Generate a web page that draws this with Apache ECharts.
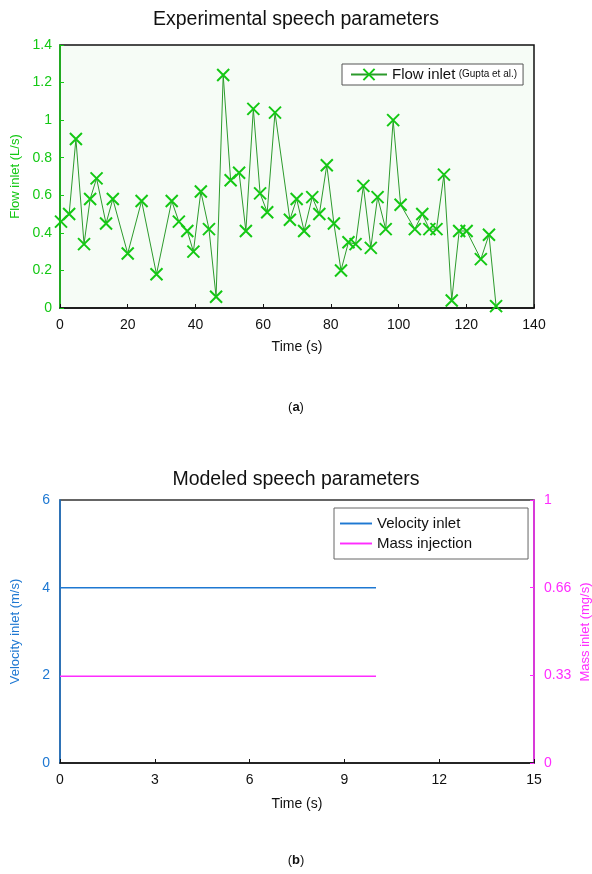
<!DOCTYPE html>
<html>
<head>
    <meta charset="utf-8">
    <title>Speech parameters</title>
    <script src="https://cdn.jsdelivr.net/npm/echarts@6/dist/echarts.min.js"></script>
</head>
<body style="margin:0px;background:#fff;">
    <div id="main" style="width: 592px;height:874px;"></div>
    <script type="text/javascript">
    // (a) experimental flow inlet: [time s, flow L/s]
    var flowTime = [0.3, 2.7, 4.7, 7.1, 8.9, 10.8, 13.6, 15.6, 20.0, 24.1, 28.5, 33.0, 35.1, 37.6, 39.4, 41.6, 44.0, 46.1,
        48.2, 50.4, 52.9, 54.9, 57.1, 59.1, 61.2, 63.5, 67.9, 69.9, 72.1, 74.5, 76.6, 78.8, 80.9, 83.0, 85.2, 87.3,
        89.6, 91.8, 93.8, 96.2, 98.4, 100.6, 104.8, 107.0, 109.1, 111.2, 113.4, 115.7, 117.9, 120.1, 124.3, 126.7, 128.8];
    var flowValue = [0.46, 0.50, 0.90, 0.34, 0.58, 0.69, 0.45, 0.58, 0.29, 0.57, 0.18, 0.57, 0.46, 0.41, 0.30, 0.62, 0.42, 0.06,
        1.24, 0.68, 0.72, 0.41, 1.06, 0.61, 0.51, 1.04, 0.47, 0.58, 0.41, 0.59, 0.50, 0.76, 0.45, 0.20, 0.35, 0.34,
        0.65, 0.32, 0.59, 0.42, 1.00, 0.55, 0.42, 0.50, 0.42, 0.42, 0.71, 0.04, 0.41, 0.41, 0.26, 0.39, 0.01];

    // (b) modeled parameters
    var modelTime = [0, 10];
    var velocityValue = [4, 4];
    var massValue = [0.33, 0.33];
    var massTicks = ['0', '0.33', '0.66', '1'];

    var flowData = flowTime.map(function (t, i) { return [t, flowValue[i]]; });
    var velData = modelTime.map(function (t, i) { return [t, velocityValue[i]]; });
    var massData = modelTime.map(function (t, i) { return [t, massValue[i]]; });

    var FONT = '"Liberation Sans", Arial, sans-serif';
    var GREEN = '#14c814', BLUE = '#1e78d2', PINK = '#ff2cff';
    var crossIcon = 'path://M0,0L10,10M10,0L0,10';

    var myChart = echarts.init(document.getElementById('main'));
    myChart.setOption({
        animation: false,
        textStyle: { fontFamily: FONT },
        title: [
            { text: 'Experimental speech parameters', left: 'center', top: 5,
              textStyle: { fontSize: 19.5, fontWeight: 'normal', color: '#111', fontFamily: FONT } },
            { text: '({b|a})', left: 'center', top: 396,
              textStyle: { fontSize: 13, fontWeight: 'normal', color: '#111', fontFamily: FONT,
                  rich: { b: { fontWeight: 'bold', fontSize: 13, fontFamily: FONT } } } },
            { text: 'Modeled speech parameters', left: 'center', top: 465,
              textStyle: { fontSize: 19.5, fontWeight: 'normal', color: '#111', fontFamily: FONT } },
            { text: '({b|b})', left: 'center', top: 849,
              textStyle: { fontSize: 13, fontWeight: 'normal', color: '#111', fontFamily: FONT,
                  rich: { b: { fontWeight: 'bold', fontSize: 13, fontFamily: FONT } } } }
        ],
        // right axis name placed by hand, the axis name gets pushed off the canvas
        graphic: [
            { type: 'text', x: 585, y: 632, rotation: Math.PI / 2,
              style: { text: 'Mass inlet (mg/s)', fill: PINK, font: '13px "Liberation Sans", Arial, sans-serif',
                       align: 'center', verticalAlign: 'middle' } }
        ],
        grid: [
            { left: 60, top: 45, width: 474, height: 263, show: true, backgroundColor: '#f6fcf6',
              borderColor: '#111', borderWidth: 1.5, containLabel: false, outerBoundsMode: 'none' },
            { left: 60, top: 500, width: 474, height: 263, show: true, backgroundColor: '#fff',
              borderColor: '#333', borderWidth: 1.5, containLabel: false, outerBoundsMode: 'none' }
        ],
        legend: [
            { left: 342, top: 64, padding: [3, 6, 3, 8],
              backgroundColor: '#fff', borderColor: '#555', borderWidth: 1, borderRadius: 0,
              itemWidth: 36, itemHeight: 14,
              data: ['flow'],
              formatter: function () { return '{a|Flow inlet} {b|(Gupta et al.)}'; },
              textStyle: { rich: {
                  a: { fontSize: 15, color: '#111', fontFamily: FONT },
                  b: { fontSize: 10, color: '#111', fontFamily: FONT } } } },
            { left: 334, top: 508, padding: [8, 56, 8, 6],
              backgroundColor: '#fff', borderColor: '#666', borderWidth: 1, borderRadius: 0,
              orient: 'vertical', itemGap: 5, itemWidth: 32, itemHeight: 14, icon: 'path://M0,5L10,5L10,5.6L0,5.6Z',
              data: ['Velocity inlet', 'Mass injection'],
              textStyle: { fontSize: 15, color: '#111', fontFamily: FONT } }
        ],
        xAxis: [
            { gridIndex: 0, type: 'value', min: 0, max: 140, interval: 20,
              name: 'Time (s)', nameLocation: 'middle', nameGap: 32,
              nameTextStyle: { fontSize: 14, color: '#111', fontFamily: FONT },
              axisLine: { lineStyle: { color: '#111', width: 1.5 } },
              axisTick: { inside: true, length: 4, lineStyle: { color: '#111' } },
              axisLabel: { fontSize: 14, color: '#111', margin: 10, fontFamily: FONT },
              splitLine: { show: false } },
            { gridIndex: 1, type: 'value', min: 0, max: 15, interval: 3,
              name: 'Time (s)', nameLocation: 'middle', nameGap: 34,
              nameTextStyle: { fontSize: 14, color: '#111', fontFamily: FONT },
              axisLine: { lineStyle: { color: '#111', width: 1.5 } },
              axisTick: { inside: true, length: 4, lineStyle: { color: '#111' } },
              axisLabel: { fontSize: 14, color: '#111', margin: 10, fontFamily: FONT },
              splitLine: { show: false } }
        ],
        yAxis: [
            { gridIndex: 0, type: 'value', min: 0, max: 1.4, interval: 0.2,
              name: 'Flow inlet (L/s)', nameLocation: 'middle', nameGap: 36, nameRotate: 90,
              nameTextStyle: { fontSize: 13, color: GREEN, fontFamily: FONT },
              axisLine: { show: true, lineStyle: { color: GREEN, width: 1.5 } },
              axisTick: { show: true, inside: true, length: 4, lineStyle: { color: GREEN } },
              axisLabel: { fontSize: 14, color: GREEN, margin: 8, fontFamily: FONT },
              splitLine: { show: false } },
            { gridIndex: 1, type: 'value', min: 0, max: 6, interval: 2,
              name: 'Velocity inlet (m/s)', nameLocation: 'middle', nameGap: 38, nameRotate: 90,
              nameTextStyle: { fontSize: 13, color: BLUE, fontFamily: FONT },
              axisLine: { show: true, lineStyle: { color: BLUE, width: 1.5 } },
              axisTick: { show: false },
              axisLabel: { fontSize: 14, color: BLUE, margin: 10, fontFamily: FONT },
              splitLine: { show: false } },
            { gridIndex: 1, type: 'value', position: 'right', min: 0, max: 1, interval: 1 / 3,
              axisLine: { show: true, lineStyle: { color: PINK, width: 1.5 } },
              axisTick: { show: true, inside: true, length: 4, lineStyle: { color: PINK } },
              axisLabel: { fontSize: 14, color: PINK, margin: 10, fontFamily: FONT,
                  formatter: function (v) { return massTicks[Math.round(v * 3)]; } },
              splitLine: { show: false } }
        ],
        series: [
            { name: 'flow', type: 'line', xAxisIndex: 0, yAxisIndex: 0, data: flowData,
              symbol: crossIcon, symbolSize: 12,
              lineStyle: { color: '#2c9a2c', width: 1 },
              itemStyle: { color: GREEN, borderColor: GREEN, borderWidth: 2 } },
            { name: 'Velocity inlet', type: 'line', xAxisIndex: 1, yAxisIndex: 1, data: velData,
              showSymbol: false, symbol: 'none',
              lineStyle: { color: BLUE, width: 1.5 }, itemStyle: { color: BLUE } },
            { name: 'Mass injection', type: 'line', xAxisIndex: 1, yAxisIndex: 2, data: massData,
              showSymbol: false, symbol: 'none',
              lineStyle: { color: PINK, width: 1.5 }, itemStyle: { color: PINK } }
        ]
    });
    </script>
</body>
</html>
